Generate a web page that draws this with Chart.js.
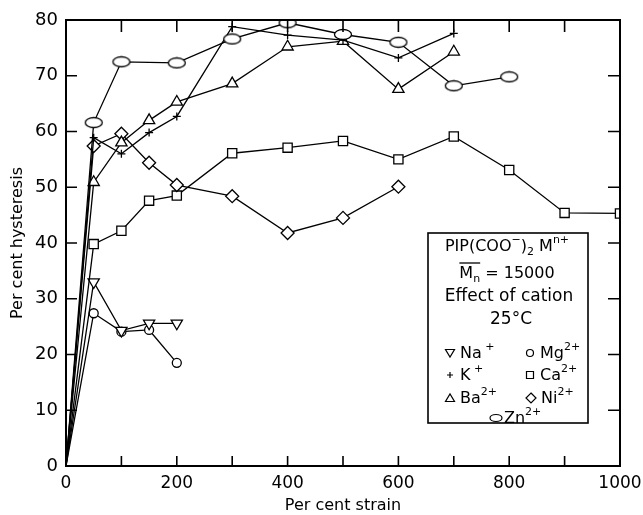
<!DOCTYPE html>
<html>
<head>
<meta charset="utf-8">
<script src="https://cdn.jsdelivr.net/npm/chart.js@4.4.1/dist/chart.umd.min.js"></script>
<style>
  html, body { margin: 0; padding: 0; background: #fff; }
  #wrap { width: 643px; height: 515px; }
</style>
</head>
<body>
<div id="wrap"><canvas id="hyst"></canvas></div>
<script>
// per cent strain (x) and per cent hysteresis (y) for each cation
const naX = [0, 50, 100, 150, 200];
const naY = [0, 33, 24.3, 25.6, 25.6];
const mgX = [0, 50, 100, 150, 200];
const mgY = [0, 27.4, 24.1, 24.4, 18.5];
const kX = [0, 50, 100, 150, 200, 300, 400, 500, 600, 700];
const kY = [0, 58.9, 56, 59.8, 62.7, 78.8, 77.3, 76.4, 73.2, 77.6];
const baX = [0, 50, 100, 150, 200, 300, 400, 500, 600, 700];
const baY = [0, 50.9, 58, 62, 65.3, 68.6, 75.2, 76.2, 67.6, 74.3];
const niX = [0, 50, 100, 150, 200, 300, 400, 500, 600];
const niY = [0, 57.4, 59.6, 54.4, 50.4, 48.4, 41.8, 44.5, 50.1];
const caX = [0, 50, 100, 150, 200, 300, 400, 500, 600, 700, 800, 900, 1000];
const caY = [0, 39.8, 42.2, 47.6, 48.5, 56.1, 57.1, 58.3, 55, 59.1, 53.1, 45.4, 45.3];
const znX = [0, 50, 100, 200, 300, 400, 500, 600, 700, 800];
const znY = [0, 61.6, 72.5, 72.3, 76.6, 79.5, 77.4, 76, 68.2, 69.8];

const xLabels = [0, 200, 400, 600, 800, 1000];

const FONT = '"DejaVu Sans", sans-serif';

// ellipse marker for Zn
function makeEllipse() {
    const c = document.createElement('canvas');
    c.width = 20; c.height = 13;
    const g = c.getContext('2d');
    g.beginPath();
    g.ellipse(10, 6.5, 8.5, 5, 0, 0, Math.PI * 2);
    g.fillStyle = '#fff';
    g.fill();
    g.lineWidth = 1.3;
    g.strokeStyle = '#000';
    g.stroke();
    return c;
}
const ellipseImg = makeEllipse();

function pts(xs, ys) {
    return xs.map(function(x, i) { return { x: x, y: ys[i] }; });
}

function series(label, xs, ys, style, r, rot) {
    return {
        label: label,
        data: pts(xs, ys),
        borderColor: '#000',
        borderWidth: 1.3,
        pointStyle: style,
        pointRotation: rot || 0,
        pointRadius: function(ctx) { return ctx.dataIndex === 0 ? 0 : r; },
        pointBorderColor: '#000',
        pointBackgroundColor: '#fff',
        pointBorderWidth: 1.3,
        tension: 0
    };
}

// inward tick marks and the top / right frame
const frame = {
    id: 'frame',
    afterDatasetsDraw(chart) {
        const { ctx, chartArea: a, scales: { x, y } } = chart;
        ctx.save();
        ctx.strokeStyle = '#000';
        ctx.lineWidth = 1.6;
        ctx.beginPath();
        for (let v = 100; v < 1000; v += 100) {
            const px = x.getPixelForValue(v);
            ctx.moveTo(px, a.bottom); ctx.lineTo(px, a.bottom - 10);
            ctx.moveTo(px, a.top); ctx.lineTo(px, a.top + 12);
        }
        for (let v = 10; v < 80; v += 10) {
            const py = y.getPixelForValue(v);
            ctx.moveTo(a.left, py); ctx.lineTo(a.left + 11, py);
            ctx.moveTo(a.right, py); ctx.lineTo(a.right - 12, py);
        }
        ctx.stroke();
        ctx.lineWidth = 2;
        ctx.beginPath();
        ctx.moveTo(a.left, a.top); ctx.lineTo(a.right, a.top); ctx.lineTo(a.right, a.bottom);
        ctx.stroke();
        ctx.restore();
    }
};

// text with sub / superscript pieces
function richWidth(ctx, parts, size) {
    let w = 0;
    parts.forEach(function(p) {
        ctx.font = (p[1] ? Math.round(size * 0.7) : size) + 'px ' + FONT;
        w += ctx.measureText(p[0]).width;
    });
    return w;
}
function richText(ctx, parts, x, y, size) {
    let cx = x;
    parts.forEach(function(p) {
        const small = p[1];
        ctx.font = (small ? Math.round(size * 0.7) : size) + 'px ' + FONT;
        let dy = 0;
        if (small === 'sup') dy = -size * 0.4;
        if (small === 'sub') dy = size * 0.3;
        ctx.fillText(p[0], cx, y + dy);
        cx += ctx.measureText(p[0]).width;
    });
    return cx;
}

function mark(ctx, kind, x, y) {
    ctx.beginPath();
    if (kind === 'down') {
        ctx.moveTo(x - 4.5, y - 3.5); ctx.lineTo(x + 4.5, y - 3.5); ctx.lineTo(x, y + 4);
        ctx.closePath();
    } else if (kind === 'up') {
        ctx.moveTo(x - 4.5, y + 3.5); ctx.lineTo(x + 4.5, y + 3.5); ctx.lineTo(x, y - 4);
        ctx.closePath();
    } else if (kind === 'plus') {
        ctx.moveTo(x - 3, y); ctx.lineTo(x + 3, y);
        ctx.moveTo(x, y - 3); ctx.lineTo(x, y + 3);
    } else if (kind === 'circle') {
        ctx.arc(x, y, 3.5, 0, Math.PI * 2);
    } else if (kind === 'square') {
        ctx.rect(x - 3.5, y - 3.5, 7, 7);
    } else if (kind === 'diamond') {
        ctx.moveTo(x, y - 5); ctx.lineTo(x + 5, y); ctx.lineTo(x, y + 5); ctx.lineTo(x - 5, y);
        ctx.closePath();
    } else if (kind === 'ellipse') {
        ctx.ellipse(x, y, 6, 3.5, 0, 0, Math.PI * 2);
    }
    ctx.stroke();
}

const keyBox = {
    id: 'keyBox',
    afterDraw(chart) {
        const ctx = chart.ctx;
        const bx = 428, by = 233, bw = 160, bh = 190;
        ctx.save();
        ctx.fillStyle = '#fff';
        ctx.fillRect(bx, by, bw, bh);
        ctx.strokeStyle = '#000';
        ctx.lineWidth = 1.6;
        ctx.strokeRect(bx, by, bw, bh);

        ctx.fillStyle = '#000';
        ctx.textBaseline = 'middle';
        ctx.textAlign = 'left';
        const fs = 16;
        const cx = 507;

        const l1 = [['PIP(COO'], ['\u2212', 'sup'], [')'], ['2', 'sub'], [' M'], ['n+', 'sup']];
        richText(ctx, l1, cx - richWidth(ctx, l1, fs) / 2, 247, fs);

        const l2 = [['M'], ['n', 'sub'], [' = 15000']];
        const x2 = cx - richWidth(ctx, l2, fs) / 2;
        richText(ctx, l2, x2, 274, fs);
        ctx.font = fs + 'px ' + FONT;
        const mw = ctx.measureText('M').width;
        ctx.lineWidth = 1.3;
        ctx.beginPath();
        ctx.moveTo(x2, 263); ctx.lineTo(x2 + mw + 7, 263);
        ctx.stroke();

        ctx.font = '17px ' + FONT;
        ctx.textAlign = 'center';
        ctx.fillText('Effect of cation', cx + 2, 297);
        ctx.fillText('25\u00b0C', cx + 4, 320);
        ctx.textAlign = 'left';

        ctx.lineWidth = 1.2;
        const rows = [
            ['down', 450, 353, [['Na'], [' +', 'sup']]],
            ['circle', 530, 353, [['Mg'], ['2+', 'sup']]],
            ['plus', 450, 375, [['K'], [' +', 'sup']]],
            ['square', 530, 375, [['Ca'], ['2+', 'sup']]],
            ['up', 450, 398, [['Ba'], ['2+', 'sup']]],
            ['diamond', 531, 398, [['Ni'], ['2+', 'sup']]],
            ['ellipse', 496, 418, [['Zn'], ['2+', 'sup']]]
        ];
        rows.forEach(function(r) {
            mark(ctx, r[0], r[1], r[2]);
            richText(ctx, r[3], r[1] + (r[0] === 'ellipse' ? 8 : 10), r[2] + 1, fs);
        });
        ctx.restore();
    }
};

new Chart(document.getElementById('hyst'), {
    type: 'line',
    data: {
        datasets: [
            series('Zn2+', znX, znY, ellipseImg, 6),
            series('K+', kX, kY, 'cross', 4),
            series('Ba2+', baX, baY, 'triangle', 6.5),
            series('Ni2+', niX, niY, 'rectRot', 6.5),
            series('Ca2+', caX, caY, 'rect', 6.5),
            series('Na+', naX, naY, 'triangle', 6.5, 180),
            series('Mg2+', mgX, mgY, 'circle', 4.5)
        ]
    },
    options: {
        responsive: true,
        maintainAspectRatio: false,
        animation: false,
        layout: { autoPadding: false, padding: { left: 0, right: 23, top: 20, bottom: 0 } },
        plugins: {
            legend: { display: false },
            tooltip: { enabled: false }
        },
        scales: {
            x: {
                type: 'linear',
                min: 0,
                max: 1000,
                grid: { display: false },
                border: { display: true, color: '#000', width: 2 },
                ticks: {
                    stepSize: 100,
                    padding: -1,
                    color: '#000',
                    font: { family: FONT, size: 17 },
                    maxRotation: 0,
                    autoSkip: false,
                    callback: function(v) { return xLabels.indexOf(v) >= 0 ? String(v) : ''; }
                },
                title: {
                    display: true,
                    text: 'Per cent strain',
                    color: '#000',
                    font: { family: FONT, size: 16 },
                    padding: { top: 4, bottom: 0 }
                },
                afterFit: function(s) { s.height = 49; }
            },
            y: {
                min: 0,
                max: 80,
                grid: { display: false },
                border: { display: true, color: '#000', width: 2 },
                ticks: {
                    stepSize: 10,
                    padding: 0,
                    color: '#000',
                    font: { family: FONT, size: 18 }
                },
                title: {
                    display: true,
                    text: 'Per cent hysteresis',
                    color: '#000',
                    font: { family: FONT, size: 16 },
                    padding: { top: 8, bottom: 4 }
                },
                afterFit: function(s) { s.width = 66; }
            }
        }
    },
    plugins: [frame, keyBox]
});
</script>
</body>
</html>
